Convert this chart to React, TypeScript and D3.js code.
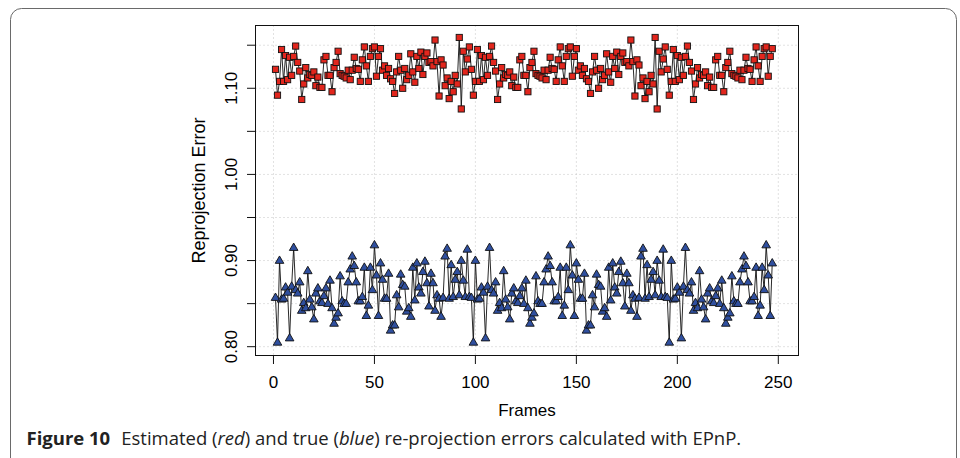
import React, { useEffect, useRef } from 'react'

import * as d3 from 'd3'

// axis ticks and labels
const xTicks = [0, 50, 100, 150, 200, 250]
const yTicks = [0.8, 0.85, 0.9, 0.95, 1.0, 1.05, 1.1, 1.15]
const yLabels = [0.8, 0.9, 1.0, 1.1]

// estimated (red) re-projection error, frames 1..247
const estimated = [
  1.122, 1.092, 1.108, 1.145, 1.108, 1.138, 1.110, 1.136, 1.115, 1.137,
  1.149, 1.130, 1.120, 1.087, 1.105, 1.124, 1.112, 1.116, 1.115, 1.119,
  1.103, 1.113, 1.101, 1.101, 1.133, 1.137, 1.115, 1.115, 1.096, 1.124,
  1.130, 1.143, 1.117, 1.115, 1.114, 1.112, 1.121, 1.110, 1.121, 1.136,
  1.123, 1.122, 1.108, 1.133, 1.148, 1.126, 1.108, 1.137, 1.146, 1.148,
  1.114, 1.137, 1.146, 1.121, 1.126, 1.115, 1.123, 1.111, 1.108, 1.094,
  1.119, 1.137, 1.121, 1.100, 1.123, 1.110, 1.115, 1.140, 1.119, 1.107,
  1.137, 1.123, 1.142, 1.116, 1.137, 1.141, 1.130, 1.131, 1.126, 1.156,
  1.131, 1.091, 1.133, 1.127, 1.103, 1.112, 1.088, 1.108, 1.096, 1.115,
  1.105, 1.159, 1.076, 1.143, 1.119, 1.134, 1.148,
  1.122, 1.092, 1.108, 1.145, 1.108, 1.138, 1.110, 1.136, 1.115, 1.137,
  1.149, 1.130, 1.120, 1.087, 1.105, 1.124, 1.112, 1.116, 1.115, 1.119,
  1.103, 1.113, 1.101, 1.101, 1.133, 1.137, 1.115, 1.115, 1.096, 1.124,
  1.130, 1.143, 1.117, 1.115, 1.114, 1.112, 1.121, 1.110, 1.121, 1.136,
  1.123, 1.122, 1.108, 1.133, 1.148, 1.126, 1.108, 1.137, 1.146, 1.148,
  1.114, 1.137, 1.146, 1.121, 1.126, 1.115, 1.123, 1.111, 1.108, 1.094,
  1.119, 1.137, 1.121, 1.100, 1.123, 1.110, 1.115, 1.140, 1.119, 1.107,
  1.137, 1.123, 1.142, 1.116, 1.137, 1.141, 1.130, 1.131, 1.126, 1.156,
  1.131, 1.091, 1.133, 1.127, 1.103, 1.112, 1.088, 1.108, 1.096, 1.115,
  1.105, 1.159, 1.076, 1.143, 1.119, 1.134, 1.148,
  1.122, 1.092, 1.108, 1.145, 1.108, 1.138, 1.110, 1.136, 1.115, 1.137,
  1.149, 1.130, 1.120, 1.087, 1.105, 1.124, 1.112, 1.116, 1.115, 1.119,
  1.103, 1.113, 1.101, 1.101, 1.133, 1.137, 1.115, 1.115, 1.096, 1.124,
  1.130, 1.143, 1.117, 1.115, 1.114, 1.112, 1.121, 1.110, 1.121, 1.136,
  1.123, 1.122, 1.108, 1.133, 1.148, 1.126, 1.108, 1.137, 1.146, 1.148,
  1.114, 1.137, 1.146,
]

// true (blue) re-projection error, frames 1..247
const trueError = [
  0.857, 0.805, 0.900, 0.855, 0.856, 0.869, 0.863, 0.810, 0.870, 0.915,
  0.866, 0.862, 0.875, 0.842, 0.851, 0.845, 0.888, 0.855, 0.846, 0.832,
  0.862, 0.868, 0.853, 0.851, 0.859, 0.868, 0.850, 0.877, 0.845, 0.827,
  0.834, 0.839, 0.882, 0.853, 0.850, 0.850, 0.875, 0.890, 0.905, 0.894,
  0.875, 0.853, 0.853, 0.858, 0.892, 0.836, 0.848, 0.892, 0.866, 0.918,
  0.883, 0.836, 0.897, 0.878, 0.856, 0.856, 0.885, 0.819, 0.825, 0.825,
  0.860, 0.846, 0.884, 0.872, 0.870, 0.841, 0.845, 0.835, 0.892, 0.854,
  0.897, 0.869, 0.862, 0.887, 0.899, 0.874, 0.847, 0.885, 0.874, 0.842,
  0.860, 0.856, 0.835, 0.857, 0.905, 0.914, 0.856, 0.895, 0.858, 0.878,
  0.887, 0.860, 0.900, 0.877, 0.858, 0.913, 0.858,
  0.857, 0.805, 0.900, 0.855, 0.856, 0.869, 0.863, 0.810, 0.870, 0.915,
  0.866, 0.862, 0.875, 0.842, 0.851, 0.845, 0.888, 0.855, 0.846, 0.832,
  0.862, 0.868, 0.853, 0.851, 0.859, 0.868, 0.850, 0.877, 0.845, 0.827,
  0.834, 0.839, 0.882, 0.853, 0.850, 0.850, 0.875, 0.890, 0.905, 0.894,
  0.875, 0.853, 0.853, 0.858, 0.892, 0.836, 0.848, 0.892, 0.866, 0.918,
  0.883, 0.836, 0.897, 0.878, 0.856, 0.856, 0.885, 0.819, 0.825, 0.825,
  0.860, 0.846, 0.884, 0.872, 0.870, 0.841, 0.845, 0.835, 0.892, 0.854,
  0.897, 0.869, 0.862, 0.887, 0.899, 0.874, 0.847, 0.885, 0.874, 0.842,
  0.860, 0.856, 0.835, 0.857, 0.905, 0.914, 0.856, 0.895, 0.858, 0.878,
  0.887, 0.860, 0.900, 0.877, 0.858, 0.913, 0.858,
  0.857, 0.805, 0.900, 0.855, 0.856, 0.869, 0.863, 0.810, 0.870, 0.915,
  0.866, 0.862, 0.875, 0.842, 0.851, 0.845, 0.888, 0.855, 0.846, 0.832,
  0.862, 0.868, 0.853, 0.851, 0.859, 0.868, 0.850, 0.877, 0.845, 0.827,
  0.834, 0.839, 0.882, 0.853, 0.850, 0.850, 0.875, 0.890, 0.905, 0.894,
  0.875, 0.853, 0.853, 0.858, 0.892, 0.836, 0.848, 0.892, 0.866, 0.918,
  0.883, 0.836, 0.897,
]

const App = () => {
  const svgRef = useRef(null)

  useEffect(() => {
    const width = 960
    const height = 458
    const plot = { left: 255.5, top: 25.5, right: 798.5, bottom: 355.5 }
    const axisFont = 'Liberation Sans, Arial, Helvetica, sans-serif'

    const svg = d3.select(svgRef.current)
    svg.selectAll('*').remove()
    svg.attr('width', width).attr('height', height)

    // figure card outline
    svg
      .append('rect')
      .attr('x', 10.5)
      .attr('y', 8.5)
      .attr('width', 946)
      .attr('height', 490)
      .attr('rx', 11)
      .attr('fill', 'white')
      .attr('stroke', '#6a6a6a')

    const x = d3.scaleLinear().domain([-8.9, 260]).range([plot.left, plot.right])
    const y = d3
      .scaleLinear()
      .domain([0.78978, 1.17288])
      .range([plot.bottom, plot.top])

    // dotted grid
    const grid = svg.append('g').attr('stroke', '#c4c4c4').attr('stroke-dasharray', '1,3')
    grid
      .selectAll('line.v')
      .data(xTicks)
      .enter()
      .append('line')
      .attr('x1', (d) => x(d))
      .attr('x2', (d) => x(d))
      .attr('y1', plot.top)
      .attr('y2', plot.bottom)
    grid
      .selectAll('line.h')
      .data(yTicks)
      .enter()
      .append('line')
      .attr('x1', plot.left)
      .attr('x2', plot.right)
      .attr('y1', (d) => y(d))
      .attr('y2', (d) => y(d))

    // series
    const line = d3
      .line<number>()
      .x((d, i) => x(i + 1))
      .y((d) => y(d))

    svg
      .append('path')
      .attr('d', line(estimated))
      .attr('fill', 'none')
      .attr('stroke', '#111')
      .attr('stroke-width', 0.9)
    svg
      .append('path')
      .attr('d', line(trueError))
      .attr('fill', 'none')
      .attr('stroke', '#111')
      .attr('stroke-width', 0.9)

    const s = 6.2
    svg
      .append('g')
      .selectAll('rect')
      .data(estimated)
      .enter()
      .append('rect')
      .attr('x', (d, i) => x(i + 1) - s / 2)
      .attr('y', (d) => y(d) - s / 2)
      .attr('width', s)
      .attr('height', s)
      .attr('fill', '#e2261d')
      .attr('stroke', '#111')
      .attr('stroke-width', 0.9)

    const tri = 'M0,-4.6L4.3,2.8L-4.3,2.8Z'
    svg
      .append('g')
      .selectAll('path')
      .data(trueError)
      .enter()
      .append('path')
      .attr('d', tri)
      .attr('transform', (d, i) => `translate(${x(i + 1)},${y(d)})`)
      .attr('fill', '#2f4f9f')
      .attr('stroke', '#111')
      .attr('stroke-width', 0.9)

    // plot box
    svg
      .append('rect')
      .attr('x', plot.left)
      .attr('y', plot.top)
      .attr('width', plot.right - plot.left)
      .attr('height', plot.bottom - plot.top)
      .attr('fill', 'none')
      .attr('stroke', '#111')

    // y axis
    const yAxis = svg.append('g')
    yAxis
      .selectAll('line')
      .data(yTicks)
      .enter()
      .append('line')
      .attr('x1', plot.left - 8.5)
      .attr('x2', plot.left)
      .attr('y1', (d) => y(d))
      .attr('y2', (d) => y(d))
      .attr('stroke', '#111')
    yAxis
      .selectAll('text')
      .data(yLabels)
      .enter()
      .append('text')
      .attr('transform', (d) => `translate(237,${y(d)}) rotate(-90)`)
      .attr('text-anchor', 'middle')
      .style('font-family', axisFont)
      .style('font-size', '17px')
      .text((d) => d3.format('.2f')(d))

    // x axis
    const xAxis = svg.append('g')
    xAxis
      .selectAll('line')
      .data(xTicks)
      .enter()
      .append('line')
      .attr('x1', (d) => x(d))
      .attr('x2', (d) => x(d))
      .attr('y1', plot.bottom)
      .attr('y2', plot.bottom + 8.5)
      .attr('stroke', '#111')
    xAxis
      .selectAll('text')
      .data(xTicks)
      .enter()
      .append('text')
      .attr('x', (d) => x(d))
      .attr('y', 388)
      .attr('text-anchor', 'middle')
      .style('font-family', axisFont)
      .style('font-size', '17px')
      .text((d) => d)

    // axis titles
    svg
      .append('text')
      .attr('x', (plot.left + plot.right) / 2)
      .attr('y', 416)
      .attr('text-anchor', 'middle')
      .style('font-family', axisFont)
      .style('font-size', '17px')
      .text('Frames')
    svg
      .append('text')
      .attr('transform', `translate(205,${(plot.top + plot.bottom) / 2}) rotate(-90)`)
      .attr('text-anchor', 'middle')
      .style('font-family', axisFont)
      .style('font-size', '18px')
      .text('Reprojection Error')

    // caption
    const cap = svg
      .append('text')
      .attr('x', 26.5)
      .attr('y', 445)
      .style('font-family', 'Open Sans, Noto Sans, sans-serif')
      .style('font-size', '18.5px')
      .attr('fill', '#222')
    cap.append('tspan').style('font-weight', 'bold').text('Figure 10')
    cap.append('tspan').attr('dx', 11).text('Estimated (')
    cap.append('tspan').style('font-style', 'italic').text('red')
    cap.append('tspan').text(') and true (')
    cap.append('tspan').style('font-style', 'italic').text('blue')
    cap.append('tspan').text(') re-projection errors calculated with EPnP.')
  }, [])

  return (
    <svg
      ref={svgRef}
      style={{ position: 'absolute', left: 0, top: 0, display: 'block' }}
    ></svg>
  )
}

export default App
